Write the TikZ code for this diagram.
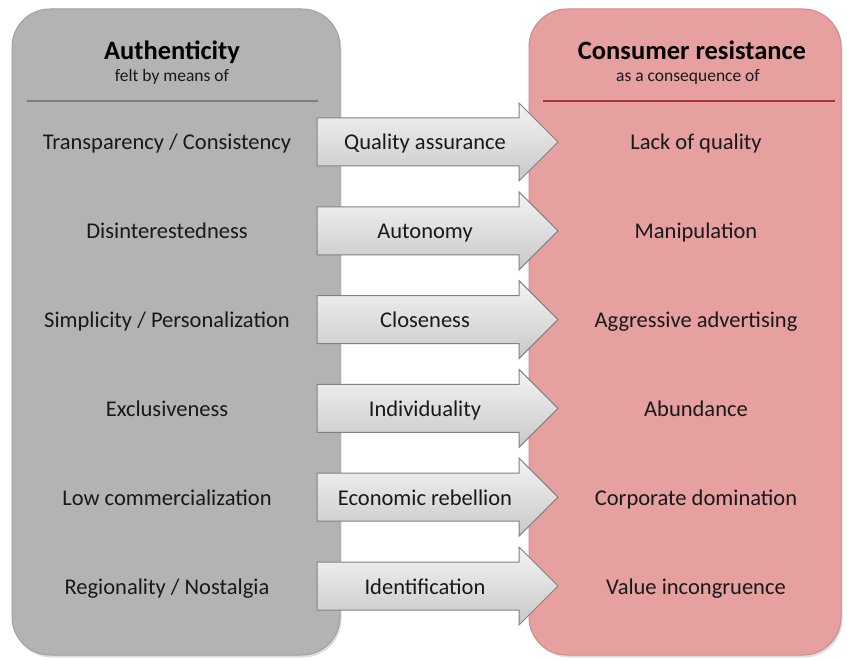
\documentclass[tikz,border=0pt]{standalone}
\usepackage{fontspec}
\setmainfont{Carlito}
\usetikzlibrary{shadows}
\definecolor{leftfill}{RGB}{179,179,179}
\definecolor{leftdraw}{RGB}{160,160,160}
\definecolor{rightfill}{RGB}{230,160,160}
\definecolor{rightdraw}{RGB}{205,140,140}
\definecolor{leftrule}{RGB}{125,125,125}
\definecolor{rightrule}{RGB}{168,52,52}
\definecolor{txt}{RGB}{25,25,25}
\definecolor{arrtop}{RGB}{244,244,244}
\definecolor{arrbot}{RGB}{200,200,200}
\definecolor{arrdraw}{RGB}{130,130,130}
\tikzset{
  panel/.style={rounded corners=38pt, line width=1pt, inner sep=0pt,
    drop shadow={opacity=0.25, shadow xshift=1.5pt, shadow yshift=-2.5pt}},
  titletxt/.style={font=\fontsize{26.5}{30}\selectfont\bfseries, text=black, anchor=base, inner sep=0pt},
  subtxt/.style={font=\fontsize{17.5}{20}\selectfont, text=txt, anchor=base, inner sep=0pt},
  itemtxt/.style={font=\fontsize{22.5}{26}\selectfont, text=txt, anchor=base, inner sep=0pt},
  arrowbody/.style={top color=arrtop, bottom color=arrbot, draw=arrdraw, line width=1pt, line join=miter},
}
\begin{document}
\begin{tikzpicture}[x=1pt,y=-1pt]
\useasboundingbox (0,0) rectangle (847,660);
\fill[white] (0,0) rectangle (847,660);
% panels
\node[panel, fill=leftfill, draw=leftdraw, minimum width=328pt, minimum height=646pt] (leftpanel) at (176,332) {};
\node[panel, fill=rightfill, draw=rightdraw, minimum width=312pt, minimum height=646pt] (rightpanel) at (685,332) {};
% headers
\node[titletxt] (lefttitle) at (172,60) {Authenticity};
\node[subtxt] (leftsub) at (172,82) {felt by means of};
\coordinate (ll1) at (27,101);
\coordinate (ll2) at (318,101);
\draw[leftrule, line width=1.8pt] (ll1) -- (ll2);
\node[titletxt] (righttitle) at (692,60) {Consumer resistance};
\node[subtxt] (rightsub) at (688,82) {as a consequence of};
\coordinate (rl1) at (543,101);
\coordinate (rl2) at (835,101);
\draw[rightrule, line width=1.8pt] (rl1) -- (rl2);
% rows
\foreach \i/\l/\m/\r in {
  0/{Transparency / Consistency}/{Quality assurance}/{Lack of quality},
  1/{Disinterestedness}/{Autonomy}/{Manipulation},
  2/{Simplicity / Personalization}/{Closeness}/{Aggressive advertising},
  3/{Exclusiveness}/{Individuality}/{Abundance},
  4/{Low commercialization}/{Economic rebellion}/{Corporate domination},
  5/{Regionality / Nostalgia}/{Identification}/{Value incongruence}}{
  \pgfmathsetmacro{\yc}{142+88.8*\i}
  \path[arrowbody] (317,\yc-24) -- (519,\yc-24) -- (519,\yc-39) -- (558,\yc)
     -- (519,\yc+39) -- (519,\yc+24) -- (317,\yc+24) -- cycle;
  \node[itemtxt] (left\i) at (167,\yc+8) {\l};
  \node[itemtxt] (mid\i) at (425,\yc+8) {\m};
  \node[itemtxt] (right\i) at (696,\yc+8) {\r};
}
\end{tikzpicture}
\end{document}
